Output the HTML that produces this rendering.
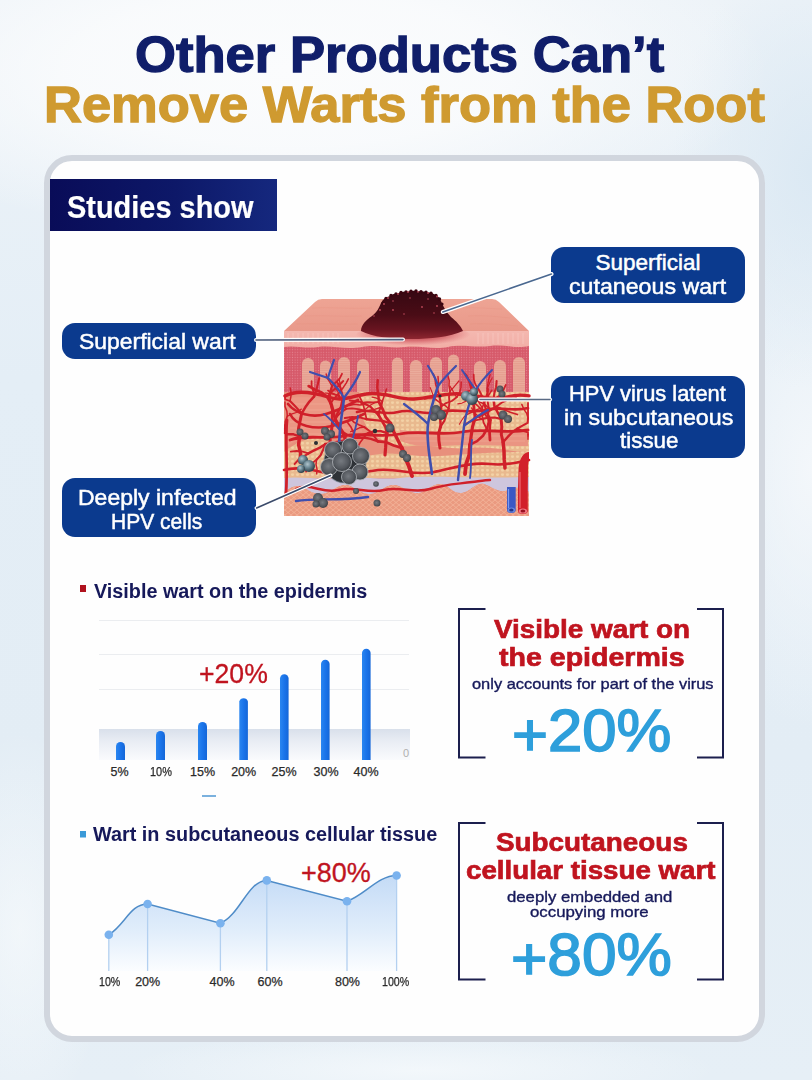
<!DOCTYPE html>
<html><head><meta charset="utf-8">
<style>
*{margin:0;padding:0;box-sizing:border-box}
html,body{width:812px;height:1080px;overflow:hidden}
body{position:relative;font-family:"Liberation Sans",sans-serif;
 background:
  radial-gradient(ellipse 480px 170px at 290px 70px, #fbfcfd 0%, rgba(251,252,253,0.85) 45%, rgba(251,252,253,0) 100%),
  radial-gradient(ellipse 140px 220px at 812px 170px, rgba(218,232,243,0.9) 0%, rgba(218,232,243,0) 100%),
  radial-gradient(ellipse 120px 260px at 812px 470px, rgba(245,248,251,0.9) 0%, rgba(245,248,251,0) 100%),
  radial-gradient(ellipse 90px 200px at 20px 930px, rgba(250,252,253,0.6) 0%, rgba(250,252,253,0) 100%),
  radial-gradient(ellipse 300px 40px at 420px 1070px, rgba(248,251,253,0.7) 0%, rgba(248,251,253,0) 100%),
  linear-gradient(180deg,#edf3f8 0%,#e4eef6 35%,#e3edf5 70%,#e6eff6 100%);
}
.t{position:absolute;white-space:nowrap;line-height:1;transform-origin:0 0}
.card{position:absolute;left:44px;top:155px;width:721px;height:887px;border:6.5px solid #d1d6de;border-radius:28px;background:#fefefe}
.studies{position:absolute;left:50px;top:179px;width:227px;height:52px;background:linear-gradient(90deg,#090c58 0%,#0d1868 55%,#15287e 100%)}
.pill{position:absolute;background:#0b3a8e;border-radius:13px}
.ab{position:absolute}
</style></head><body>
<div class="card"></div>
<div class="studies"></div>
<div class="pill" style="left:62px;top:322.5px;width:194px;height:36.5px"></div>
<div class="pill" style="left:551px;top:247px;width:194px;height:56px"></div>
<div class="pill" style="left:551px;top:376px;width:194px;height:82px"></div>
<div class="pill" style="left:62px;top:478px;width:194px;height:59px"></div>
<svg class="ab" style="left:270px;top:280px;filter:blur(0.35px)" width="270" height="245" viewBox="270 280 270 245">
<defs>
 <pattern id="dots" width="2.6" height="2.6" patternUnits="userSpaceOnUse">
  <rect width="2.6" height="2.6" fill="#d65a6a"/><circle cx="1.3" cy="1.3" r="0.6" fill="#e58390"/>
 </pattern>
 <pattern id="fat" width="5" height="4.5" patternUnits="userSpaceOnUse">
  <rect width="5" height="4.5" fill="#e9b98e"/><ellipse cx="2.5" cy="2.25" rx="1.6" ry="1.3" fill="#f3d2a6"/>
 </pattern>
 <pattern id="tissue" width="6" height="5" patternUnits="userSpaceOnUse">
  <rect width="6" height="5" fill="#ea9a80"/><path d="M0,2.5 L3,0 L6,2.5 L3,5 Z" fill="none" stroke="#f4b49a" stroke-width="0.8"/>
 </pattern>
 <pattern id="strp" width="4" height="2.2" patternUnits="userSpaceOnUse">
  <rect width="4" height="2.2" fill="#e6a090"/><rect y="1.4" width="4" height="0.6" fill="#eeb2a2"/>
 </pattern>
 <linearGradient id="topg" x1="0" y1="0" x2="0" y2="1">
  <stop offset="0" stop-color="#eea494"/><stop offset="1" stop-color="#e9998a"/>
 </linearGradient>
 <linearGradient id="epig" x1="0" y1="0" x2="0" y2="1">
  <stop offset="0" stop-color="#f4b8b0"/><stop offset="1" stop-color="#f2aea6"/>
 </linearGradient>
 <linearGradient id="wartg" x1="0" y1="0" x2="0" y2="1">
  <stop offset="0" stop-color="#360812"/><stop offset="0.5" stop-color="#4a0c16"/><stop offset="0.8" stop-color="#681420"/><stop offset="1" stop-color="#8e2630"/>
 </linearGradient>
 <radialGradient id="wshadow" cx="0.5" cy="0.4" r="0.5">
  <stop offset="0" stop-color="#a01828" stop-opacity="0.9"/><stop offset="0.6" stop-color="#c03040" stop-opacity="0.5"/><stop offset="1" stop-color="#d04050" stop-opacity="0"/>
 </radialGradient>
 <radialGradient id="cl" cx="0.45" cy="0.45" r="0.6">
  <stop offset="0" stop-color="#767a80"/><stop offset="0.65" stop-color="#53575d"/><stop offset="1" stop-color="#33373c"/>
 </radialGradient>
 <radialGradient id="clb" cx="0.38" cy="0.35" r="0.62">
  <stop offset="0" stop-color="#b0c4cc"/><stop offset="0.5" stop-color="#6a8692"/><stop offset="1" stop-color="#34464f"/>
 </radialGradient>
</defs>
<!-- base front face -->
<rect x="284" y="331" width="245" height="185" fill="#e8907c"/>
<!-- beige cell regions -->
<path d="M360,388 L529,386 L529,452 C510,452 492,446 470,448 C450,450 432,444 412,446 C395,448 380,440 370,432 C362,420 356,402 360,388 Z" fill="url(#fat)"/>
<path d="M284,452 C292,446 300,440 314,438 C326,437 334,446 342,452 C352,458 365,456 380,454 C400,452 420,458 440,456 C465,454 490,452 529,452 L529,478 L284,478 Z" fill="url(#fat)"/>
<!-- salmon stripe zones -->
<path d="M286,398 C300,396 330,398 358,400 L362,432 C345,434 320,436 300,440 C292,442 288,446 286,448 Z" fill="#eb9784"/>
<path d="M400,430 C430,434 470,430 528,432 L528,446 C500,446 470,444 440,446 C420,447 405,444 400,440 Z" fill="#ea9482"/>
<g stroke="#f2ac98" stroke-width="0.8" opacity="0.8">
 <path d="M290,404 H356 M290,410 H357 M290,416 H358 M290,422 H358 M290,428 H359 M290,434 H330 M405,436 H525 M405,441 H525"/>
</g>
<!-- papillary dermis -->
<path d="M284,345 C300,343 315,347 330,345 C345,343 360,347 375,345 C390,343 405,348 420,346 C440,343 455,347 470,345 C490,343 505,347 529,345 L529,392 L284,392 Z" fill="url(#dots)"/>
<!-- papillae fingers -->
<g fill="url(#strp)">
 <path d="M302,392 V364 a6,6 0 0 1 12,0 V392 Z"/>
 <path d="M320,392 V366 a5.5,5.5 0 0 1 11,0 V392 Z"/>
 <path d="M338,392 V363 a6,6 0 0 1 12,0 V392 Z"/>
 <path d="M357,392 V365 a6,6 0 0 1 12,0 V392 Z"/>
 <path d="M392,392 V363 a5.5,5.5 0 0 1 11,0 V392 Z"/>
 <path d="M410,392 V366 a6,6 0 0 1 12,0 V392 Z"/>
 <path d="M430,392 V363 a6,6 0 0 1 12,0 V392 Z"/>
 <path d="M448,392 V360 a5.5,5.5 0 0 1 11,0 V392 Z"/>
 <path d="M474,392 V367 a6,6 0 0 1 12,0 V392 Z"/>
 <path d="M494,392 V366 a6,6 0 0 1 12,0 V392 Z"/>
 <path d="M513,392 V363 a6,6 0 0 1 12,0 V392 Z"/>
</g>
<!-- epidermis band -->
<path d="M284,331 L529,331 L529,346 C515,349 505,344 490,346 C475,348 462,344 448,347 C432,350 420,345 405,347 C390,349 378,344 362,347 C345,350 332,345 318,347 C305,349 295,345 284,347 Z" fill="url(#epig)"/>
<g stroke="#f8d0c8" stroke-width="0.7" opacity="0.7">
 <path d="M288,333 V344 M293,333 V344 M298,333 V344 M303,333 V344 M308,333 V344 M313,333 V344 M318,333 V344 M323,333 V344 M328,333 V344 M333,333 V344 M338,333 V344 M478,333 V344 M483,333 V344 M488,333 V344 M493,333 V344 M498,333 V344 M503,333 V344 M508,333 V344 M513,333 V344 M518,333 V344 M523,333 V344"/>
</g>
<!-- lavender band -->
<path d="M284,478 C300,476 320,480 340,478 C360,476 380,480 400,478 C430,475 470,479 529,477 L529,492 C522,488 515,486 508,490 C500,494 492,487 484,484 C476,482 470,492 462,493 C452,494 448,484 440,484 C430,484 425,495 415,493 C405,491 400,484 392,485 C384,486 378,495 368,494 C358,493 352,484 344,485 C336,486 330,494 320,494 C310,494 305,486 298,486 C292,486 288,490 284,492 Z" fill="#cec6dd"/>
<!-- bottom tissue -->
<path d="M284,492 C288,490 292,486 298,486 C305,486 310,494 320,494 C330,494 336,486 344,485 C352,484 358,493 368,494 C378,495 384,486 392,485 C400,484 405,491 415,493 C425,495 430,484 440,484 C448,484 452,494 462,493 C470,492 476,482 484,484 C492,487 500,494 508,490 C515,486 522,488 529,492 L529,516 L284,516 Z" fill="url(#tissue)"/>
<!-- top surface -->
<path d="M322,299 L492,299 Q496,299 499,302 L529,331 L284,331 L315,302 Q318,299 322,299 Z" fill="url(#topg)"/>
<g stroke="#e6907f" stroke-width="0.6" opacity="0.55" fill="none">
 <path d="M312,308 C330,307 350,309 372,308"/><path d="M304,316 C322,315 342,317 362,316"/><path d="M296,324 C316,323 336,325 358,324"/>
 <path d="M462,308 C480,307 492,309 502,309"/><path d="M468,316 C485,315 500,317 510,318"/><path d="M470,324 C488,323 505,325 518,326"/>
</g>
<!-- wart shadow -->
<ellipse cx="413" cy="336" rx="58" ry="12" fill="url(#wshadow)"/>
<!-- wart -->
<path d="M361,331 C361,325 366,320 372,316 C377,312 379,308 381,303 C383,299 386,297 390,296 C393,293 397,294 400,292.5 C404,291 408,292 412,291 C416,290 420,292 424,291.5 C428,292 432,293 435,294.5 C438,296 440,298 441,301 C443,306 446,312 451,317 C456,321 461,326 463,331 C450,337 430,339 412,339 C392,339 372,337 361,331 Z" fill="url(#wartg)"/>
<g fill="#3a0510">
 <circle cx="386" cy="298.5" r="1.7"/><circle cx="391" cy="295.5" r="1.7"/><circle cx="396" cy="294" r="1.7"/><circle cx="401" cy="292.5" r="1.7"/><circle cx="406" cy="292" r="1.7"/><circle cx="411" cy="291.2" r="1.7"/><circle cx="416" cy="291" r="1.7"/><circle cx="421" cy="291.6" r="1.7"/><circle cx="426" cy="292.2" r="1.7"/><circle cx="431" cy="293.3" r="1.7"/><circle cx="436" cy="295.5" r="1.7"/><circle cx="439.5" cy="299" r="1.7"/>
 <circle cx="383" cy="303" r="1.6"/><circle cx="442" cy="304" r="1.6"/>
</g>
<g fill="#c85060" opacity="0.9">
 <circle cx="388" cy="298" r="0.9"/><circle cx="398" cy="294" r="0.9"/><circle cx="408" cy="292" r="0.9"/><circle cx="418" cy="291.8" r="0.9"/><circle cx="428" cy="293" r="0.9"/><circle cx="437" cy="296.5" r="0.9"/>
 <circle cx="384" cy="304" r="0.9"/><circle cx="393" cy="301" r="0.8"/><circle cx="410" cy="298" r="0.8"/><circle cx="428" cy="299" r="0.8"/><circle cx="437" cy="306" r="0.9"/><circle cx="380" cy="310" r="0.9"/>
 <circle cx="393" cy="310" r="0.9"/><circle cx="422" cy="307" r="0.9"/><circle cx="434" cy="313" r="0.8"/><circle cx="404" cy="314" r="0.8"/><circle cx="374" cy="316" r="0.8"/><circle cx="444" cy="312" r="0.8"/>
</g>
<!-- red vessel network -->
<g fill="none" stroke="#d0202a" stroke-linecap="round" stroke-linejoin="round">
 <path stroke-width="3.4" d="M285,396 C296,390 312,392 328,397 C344,402 352,396 366,394 C384,391 398,400 414,399 C432,398 446,392 462,394 C480,396 494,401 508,397 C518,394 524,395 529,396"/>
 <path stroke-width="2.8" d="M288,404 C296,414 312,418 326,414 C340,410 350,404 358,400"/>
 <path stroke-width="2.6" d="M290,414 C296,426 314,430 332,426 C346,422 356,418 364,414"/>
 <path stroke-width="2.8" d="M290,440 C306,434 326,440 344,436 C362,432 380,438 400,434 C420,430 442,436 462,432 C484,428 506,434 528,430"/>
 <path stroke-width="2.6" d="M357,412 C370,408 384,416 398,412 C412,408 424,416 440,412 C454,408 470,414 486,410 C500,406 514,412 528,408"/>
 <path stroke-width="2.6" d="M284,470 C298,466 314,470 330,474 C346,478 360,472 378,470 C398,468 414,476 434,472 C454,468 470,462 490,464 C506,466 520,462 529,460"/>
 <path stroke-width="2.4" d="M296,489 C310,482 322,494 338,490 C354,486 368,494 384,490 C400,486 414,494 430,489 C446,484 458,484 472,482 C480,481 486,480 490,480"/>
 <path stroke-width="2.8" d="M287,420 C285,440 288,464 286,494"/>
</g>
<g fill="none" stroke="#d0202a" stroke-linecap="round" stroke-linejoin="round"><path stroke-width="4.2" d="M357.0,472.0 L353.7,462.5 L351.5,452.8 L346.5,444.2"/>
<path stroke-width="3.0" d="M346.5,444.2 L339.5,442.5 L332.4,443.2 L325.3,444.2"/>
<path stroke-width="2.1" d="M325.3,444.2 L323.1,449.7 L320.6,455.2 L316.6,459.6"/>
<path stroke-width="1.5" d="M316.6,459.6 L316.0,464.4 L317.0,469.1 L316.7,473.9"/>
<path stroke-width="1.8" d="M316.6,459.6 L312.4,463.0 L309.3,467.4 L306.0,471.6"/>
<path stroke-width="2.5" d="M325.3,444.2 L319.9,447.6 L314.1,450.4 L308.4,453.4"/>
<path stroke-width="1.8" d="M308.4,453.4 L302.7,451.7 L296.7,451.0 L290.8,451.6"/>
<path stroke-width="2.1" d="M308.4,453.4 L303.6,456.7 L298.6,459.6 L294.7,463.9"/>
<path stroke-width="3.6" d="M346.5,444.2 L344.3,435.4 L339.7,427.7 L335.4,419.8"/>
<path stroke-width="2.5" d="M335.4,419.8 L337.5,413.0 L341.0,406.8 L342.5,399.9"/>
<path stroke-width="1.8" d="M342.5,399.9 L338.2,396.0 L332.9,393.7 L328.0,390.6"/>
<path stroke-width="2.1" d="M342.5,399.9 L342.1,393.5 L340.3,387.4 L337.0,382.0"/>
<path stroke-width="3.1" d="M335.4,419.8 L333.4,411.9 L331.3,404.1 L327.5,397.0"/>
<path stroke-width="2.1" d="M327.5,397.0 L332.0,391.1 L338.0,386.5 L343.1,381.1"/>
<path stroke-width="2.6" d="M327.5,397.0 L321.7,392.5 L315.0,389.7 L308.6,386.0"/>
<path stroke-width="4.0" d="M412.0,476.0 L409.0,466.5 L405.1,457.2 L401.7,447.8"/>
<path stroke-width="2.8" d="M401.7,447.8 L393.8,445.5 L386.2,442.2 L377.9,441.3"/>
<path stroke-width="2.0" d="M377.9,441.3 L374.0,436.0 L369.6,431.0 L364.3,427.1"/>
<path stroke-width="1.4" d="M364.3,427.1 L359.5,427.8 L355.2,429.8 L350.7,431.7"/>
<path stroke-width="1.7" d="M364.3,427.1 L358.8,424.7 L353.6,421.9 L349.5,417.5"/>
<path stroke-width="2.4" d="M377.9,441.3 L370.9,438.9 L363.5,437.5 L356.1,437.9"/>
<path stroke-width="1.7" d="M356.1,437.9 L353.4,432.4 L350.9,426.9 L347.2,422.0"/>
<path stroke-width="2.0" d="M356.1,437.9 L349.7,436.0 L343.9,432.5 L338.7,428.2"/>
<path stroke-width="3.4" d="M401.7,447.8 L397.7,439.8 L393.7,431.7 L390.6,423.3"/>
<path stroke-width="2.4" d="M390.6,423.3 L382.8,420.9 L374.7,420.1 L366.6,419.2"/>
<path stroke-width="1.7" d="M366.6,419.2 L364.9,411.6 L363.1,404.1 L359.8,397.2"/>
<path stroke-width="2.0" d="M366.6,419.2 L359.5,417.4 L352.2,417.0 L344.9,418.0"/>
<path stroke-width="2.9" d="M390.6,423.3 L385.6,416.9 L382.7,409.3 L379.0,402.1"/>
<path stroke-width="2.0" d="M379.0,402.1 L373.1,402.6 L367.2,402.3 L361.3,403.1"/>
<path stroke-width="2.5" d="M379.0,402.1 L378.3,394.9 L377.3,387.6 L377.7,380.3"/>
<path stroke-width="3.8" d="M465.0,474.0 L466.1,464.1 L469.3,454.6 L470.0,444.6"/>
<path stroke-width="2.6" d="M470.0,444.6 L477.1,441.1 L483.0,435.8 L486.8,429.0"/>
<path stroke-width="1.8" d="M486.8,429.0 L483.5,422.4 L482.1,415.1 L482.3,407.8"/>
<path stroke-width="1.3" d="M482.3,407.8 L479.3,403.2 L477.1,398.1 L474.4,393.3"/>
<path stroke-width="1.6" d="M482.3,407.8 L484.6,401.6 L488.1,396.0 L491.7,390.4"/>
<path stroke-width="2.2" d="M486.8,429.0 L488.6,422.1 L487.9,415.0 L488.7,408.0"/>
<path stroke-width="1.6" d="M488.7,408.0 L484.2,403.9 L478.7,401.4 L473.6,398.2"/>
<path stroke-width="1.9" d="M488.7,408.0 L487.7,401.7 L487.8,395.3 L488.0,388.9"/>
<path stroke-width="3.2" d="M470.0,444.6 L471.2,435.7 L472.5,426.8 L475.0,418.1"/>
<path stroke-width="2.2" d="M475.0,418.1 L482.6,415.1 L489.4,410.8 L496.4,406.6"/>
<path stroke-width="1.6" d="M496.4,406.6 L503.3,409.6 L510.3,412.3 L517.4,414.6"/>
<path stroke-width="1.9" d="M496.4,406.6 L502.3,402.3 L508.9,399.2 L516.1,398.0"/>
<path stroke-width="2.7" d="M475.0,418.1 L474.2,410.1 L473.3,402.0 L473.7,393.9"/>
<path stroke-width="1.9" d="M473.7,393.9 L470.8,387.9 L469.4,381.4 L466.5,375.4"/>
<path stroke-width="2.3" d="M473.7,393.9 L471.5,387.0 L468.7,380.3 L465.1,373.9"/>
<path stroke-width="3.5" d="M300.0,462.0 L300.6,453.4 L298.6,444.9 L299.5,436.3"/>
<path stroke-width="2.4" d="M299.5,436.3 L293.6,434.3 L287.3,434.2 L285.0,433.0"/>
<path stroke-width="1.7" d="M285.0,433.0 L285.0,427.3 L285.3,421.6 L287.3,416.3"/>
<path stroke-width="1.2" d="M287.3,416.3 L292.1,413.9 L297.1,412.2 L301.4,409.1"/>
<path stroke-width="1.5" d="M287.3,416.3 L286.9,411.2 L285.0,406.4 L285.0,402.0"/>
<path stroke-width="2.1" d="M285.0,433.0 L285.0,432.1 L285.0,429.6 L285.0,427.9"/>
<path stroke-width="1.5" d="M285.0,427.9 L285.0,428.1 L285.0,426.6 L285.0,425.9"/>
<path stroke-width="1.8" d="M285.0,427.9 L285.0,426.5 L285.0,425.1 L285.0,424.9"/>
<path stroke-width="3.0" d="M299.5,436.3 L298.5,428.6 L300.1,420.9 L301.7,413.3"/>
<path stroke-width="2.1" d="M301.7,413.3 L297.9,409.1 L294.0,405.0 L290.0,401.0"/>
<path stroke-width="1.5" d="M290.0,401.0 L290.9,396.7 L291.0,392.2 L290.2,387.9"/>
<path stroke-width="1.8" d="M290.0,401.0 L285.2,399.4 L285.0,397.1 L285.0,395.5"/>
<path stroke-width="2.5" d="M301.7,413.3 L305.3,407.3 L309.4,401.6 L314.2,396.4"/>
<path stroke-width="1.8" d="M314.2,396.4 L313.3,391.3 L311.6,386.4 L311.6,381.2"/>
<path stroke-width="2.1" d="M314.2,396.4 L316.2,390.5 L317.8,384.3 L319.2,378.2"/>
<path stroke-width="3.5" d="M505.0,468.0 L504.2,459.4 L504.0,450.7 L503.1,442.1"/>
<path stroke-width="2.4" d="M503.1,442.1 L507.5,437.2 L512.0,432.5 L517.3,428.6"/>
<path stroke-width="1.7" d="M517.3,428.6 L522.6,430.9 L528.0,432.4 L528.0,434.4"/>
<path stroke-width="1.2" d="M528.0,434.4 L528.0,434.4 L528.0,434.8 L528.0,436.2"/>
<path stroke-width="1.5" d="M528.0,434.4 L528.0,435.3 L528.0,436.8 L528.0,439.3"/>
<path stroke-width="2.1" d="M517.3,428.6 L522.5,425.7 L527.6,422.8 L528.0,418.4"/>
<path stroke-width="1.5" d="M528.0,418.4 L526.7,413.4 L523.8,409.1 L521.8,404.4"/>
<path stroke-width="1.8" d="M528.0,418.4 L528.0,413.3 L528.0,408.0 L528.0,402.9"/>
<path stroke-width="3.0" d="M503.1,442.1 L501.3,434.5 L501.8,426.7 L501.1,418.9"/>
<path stroke-width="2.1" d="M501.1,418.9 L494.5,417.5 L487.8,417.7 L481.2,419.1"/>
<path stroke-width="1.5" d="M481.2,419.1 L477.6,415.7 L474.0,412.3 L471.7,408.0"/>
<path stroke-width="1.8" d="M481.2,419.1 L475.3,420.4 L469.5,421.8 L464.2,424.8"/>
<path stroke-width="2.5" d="M501.1,418.9 L497.8,412.7 L494.5,406.5 L493.5,399.6"/>
<path stroke-width="1.8" d="M493.5,399.6 L499.0,396.0 L503.1,391.0 L505.7,385.0"/>
<path stroke-width="2.1" d="M493.5,399.6 L494.3,393.3 L496.1,387.2 L496.6,381.0"/>
<path stroke-width="3.0" d="M330.0,445.0 L330.2,437.7 L331.5,430.5 L332.4,423.2"/>
<path stroke-width="2.1" d="M332.4,423.2 L336.0,417.5 L340.5,412.6 L346.1,408.9"/>
<path stroke-width="1.5" d="M346.1,408.9 L343.5,404.6 L341.8,399.9 L339.3,395.6"/>
<path stroke-width="1.1" d="M339.3,395.6 L334.7,394.3 L330.0,393.6 L325.3,393.0"/>
<path stroke-width="1.2" d="M339.3,395.6 L337.7,391.4 L335.1,387.7 L333.9,383.3"/>
<path stroke-width="1.8" d="M346.1,408.9 L352.0,408.3 L358.0,409.1 L363.9,410.4"/>
<path stroke-width="1.2" d="M363.9,410.4 L367.3,407.7 L370.6,405.0 L374.3,402.9"/>
<path stroke-width="1.5" d="M363.9,410.4 L369.3,410.3 L374.6,409.4 L379.7,407.7"/>
<path stroke-width="2.5" d="M332.4,423.2 L332.1,416.6 L332.3,410.0 L330.7,403.6"/>
<path stroke-width="1.8" d="M330.7,403.6 L333.5,399.1 L337.2,395.1 L340.6,391.0"/>
<path stroke-width="1.2" d="M340.6,391.0 L340.5,387.0 L339.9,383.0 L339.0,379.1"/>
<path stroke-width="1.5" d="M340.6,391.0 L343.5,387.2 L346.2,383.1 L348.4,378.8"/>
<path stroke-width="2.2" d="M330.7,403.6 L329.9,397.7 L330.2,391.8 L332.0,386.1"/>
<path stroke-width="1.5" d="M332.0,386.1 L329.8,382.2 L327.3,378.4 L326.2,374.0"/>
<path stroke-width="1.8" d="M332.0,386.1 L335.8,382.4 L339.6,378.6 L342.0,373.8"/>
<path stroke-width="3.0" d="M440.0,448.0 L438.9,440.8 L438.6,433.4 L440.7,426.4"/>
<path stroke-width="2.1" d="M440.7,426.4 L444.3,420.9 L446.3,414.7 L448.7,408.6"/>
<path stroke-width="1.5" d="M448.7,408.6 L444.8,405.3 L440.3,402.8 L436.2,399.9"/>
<path stroke-width="1.1" d="M436.2,399.9 L432.4,398.8 L428.4,398.7 L424.5,399.1"/>
<path stroke-width="1.2" d="M436.2,399.9 L433.5,396.2 L431.9,391.9 L430.2,387.6"/>
<path stroke-width="1.8" d="M448.7,408.6 L449.4,402.7 L449.0,396.8 L450.1,391.0"/>
<path stroke-width="1.2" d="M450.1,391.0 L453.2,387.9 L456.1,384.4 L458.9,381.0"/>
<path stroke-width="1.5" d="M450.1,391.0 L449.0,385.8 L449.2,380.5 L447.8,375.4"/>
<path stroke-width="2.5" d="M440.7,426.4 L440.3,419.8 L441.2,413.2 L441.1,406.6"/>
<path stroke-width="1.8" d="M441.1,406.6 L446.1,403.1 L451.8,401.0 L456.7,397.3"/>
<path stroke-width="1.2" d="M456.7,397.3 L454.3,393.7 L452.3,389.8 L449.9,386.2"/>
<path stroke-width="1.5" d="M456.7,397.3 L459.6,392.7 L461.0,387.4 L461.2,381.9"/>
<path stroke-width="2.2" d="M441.1,406.6 L440.3,400.8 L439.1,395.0 L437.3,389.3"/>
<path stroke-width="1.5" d="M437.3,389.3 L438.4,385.1 L438.3,380.8 L438.0,376.5"/>
<path stroke-width="1.8" d="M437.3,389.3 L435.7,384.2 L435.2,378.9 L433.2,373.9"/>
<path stroke-width="3.2" d="M385.0,455.0 L385.6,447.7 L386.0,440.4 L387.1,433.1"/>
<path stroke-width="2.3" d="M387.1,433.1 L380.9,431.1 L374.4,431.2 L368.2,433.2"/>
<path stroke-width="1.6" d="M368.2,433.2 L364.1,437.3 L360.5,441.9 L357.7,447.0"/>
<path stroke-width="1.1" d="M357.7,447.0 L359.6,451.7 L362.2,456.1 L366.1,459.3"/>
<path stroke-width="1.4" d="M357.7,447.0 L353.2,449.6 L348.8,452.5 L345.1,456.1"/>
<path stroke-width="1.9" d="M368.2,433.2 L362.5,434.7 L357.0,437.0 L351.4,438.6"/>
<path stroke-width="1.4" d="M351.4,438.6 L350.4,443.1 L349.8,447.6 L348.4,452.0"/>
<path stroke-width="1.6" d="M351.4,438.6 L346.2,439.6 L341.0,440.8 L335.8,441.8"/>
<path stroke-width="2.8" d="M387.1,433.1 L385.4,426.7 L382.1,421.1 L378.7,415.4"/>
<path stroke-width="1.9" d="M378.7,415.4 L379.3,410.6 L381.3,406.2 L382.3,401.5"/>
<path stroke-width="1.4" d="M382.3,401.5 L379.2,399.4 L375.8,397.9 L372.1,397.1"/>
<path stroke-width="1.6" d="M382.3,401.5 L383.7,397.3 L385.3,393.3 L386.4,389.1"/>
<path stroke-width="2.3" d="M378.7,415.4 L374.6,411.0 L370.5,406.8 L365.2,404.1"/>
<path stroke-width="1.6" d="M365.2,404.1 L359.9,405.0 L354.6,404.3 L349.3,405.4"/>
<path stroke-width="2.0" d="M365.2,404.1 L360.4,401.8 L355.1,401.2 L349.8,400.4"/>
<path stroke-width="2.8" d="M490.0,440.0 L489.6,433.3 L489.7,426.7 L490.4,420.0"/>
<path stroke-width="1.9" d="M490.4,420.0 L486.5,416.6 L484.0,412.0 L480.2,408.4"/>
<path stroke-width="1.3" d="M480.2,408.4 L475.8,410.2 L471.6,412.4 L467.3,414.3"/>
<path stroke-width="1.1" d="M467.3,414.3 L464.0,417.0 L461.6,420.5 L459.4,424.2"/>
<path stroke-width="1.6" d="M480.2,408.4 L476.9,405.0 L473.1,402.2 L469.0,400.0"/>
<path stroke-width="1.1" d="M469.0,400.0 L465.3,401.4 L461.7,403.2 L457.8,403.9"/>
<path stroke-width="1.4" d="M469.0,400.0 L465.7,397.3 L461.8,395.5 L457.6,394.8"/>
<path stroke-width="2.3" d="M490.4,420.0 L488.0,414.5 L485.8,409.0 L484.2,403.2"/>
<path stroke-width="1.6" d="M484.2,403.2 L485.6,398.3 L487.1,393.3 L487.3,388.2"/>
<path stroke-width="1.1" d="M487.3,388.2 L488.9,384.8 L490.3,381.2 L492.2,377.9"/>
<path stroke-width="1.4" d="M487.3,388.2 L487.9,383.6 L488.8,379.1 L490.1,374.7"/>
<path stroke-width="2.0" d="M484.2,403.2 L482.9,397.9 L480.6,393.1 L477.9,388.3"/>
<path stroke-width="1.4" d="M477.9,388.3 L474.0,389.3 L470.2,390.5 L466.3,391.6"/>
<path stroke-width="1.7" d="M477.9,388.3 L475.3,384.2 L473.9,379.6 L473.7,374.7"/></g>
<!-- blue veins -->
<g fill="none" stroke="#3f4fae" stroke-linecap="round" stroke-linejoin="round">
 <path stroke-width="2.6" d="M342,474 C340,460 338,446 340,430 C341,418 343,408 344,398"/>
 <path stroke-width="2.2" d="M344,398 C340,390 334,384 328,378 M344,398 C350,390 356,382 360,372 M328,378 C322,376 316,374 310,372 M328,378 C330,370 332,366 334,360"/>
 <path stroke-width="1.8" d="M340,430 C334,424 330,418 324,414 M350,452 C352,440 356,428 358,416"/>
 <path stroke-width="2.6" d="M432,474 C430,458 426,440 428,424 C430,410 434,398 438,386"/>
 <path stroke-width="2.2" d="M438,386 C436,378 432,372 428,366 M438,386 C444,378 450,372 456,366 M428,424 C420,416 412,410 404,404"/>
 <path stroke-width="2.4" d="M458,480 C460,462 462,444 464,426 C466,412 470,400 476,390"/>
 <path stroke-width="2" d="M476,390 C480,382 486,376 492,370 M476,390 C470,382 466,376 462,370 M464,426 C472,420 480,414 488,410"/>
 <path stroke-width="1.8" d="M470,478 C472,466 470,454 472,440"/>
</g>

<g fill="none" stroke="#3f4fae" stroke-linecap="round" stroke-width="2.4"><path d="M296,501 C316,498 340,501 368,497"/></g>
<!-- tubes bottom right -->
<path d="M507,487 L507,510 a4.35,3 0 0 0 8.7,0 L515.7,487 Z" fill="#3a58c4"/>
<path d="M508.5,489 L508.5,508" stroke="#7a9af0" stroke-width="1.2"/>
<ellipse cx="511.35" cy="510" rx="3.8" ry="2.6" fill="#6a8ae0"/>
<ellipse cx="511.35" cy="510" rx="2.2" ry="1.5" fill="#24358a"/>
<path d="M529,452 C524,452 519,458 518.5,470 L518,488 L518,511 a4.9,3 0 0 0 9.8,0 L527.8,488 L528,470 C528,462 529,460 529,460 Z" fill="#d2202a"/>
<path d="M520,472 L520,508" stroke="#f06a74" stroke-width="1.2"/>
<ellipse cx="522.9" cy="511" rx="4.2" ry="2.6" fill="#f07884"/>
<ellipse cx="522.9" cy="511" rx="2.4" ry="1.5" fill="#9a1020"/>
<!-- clusters -->
<g id="big" stroke="#b4b8bc" stroke-width="0.8">
 <circle cx="345" cy="462" r="21" fill="#2e3237" stroke="#7a8a96" stroke-width="1.2" stroke-opacity="0.6"/>
 <circle cx="333" cy="450" r="8.5" fill="url(#cl)"/><circle cx="350" cy="446" r="8" fill="url(#cl)"/><circle cx="361" cy="456" r="8.5" fill="url(#cl)"/>
 <circle cx="329" cy="467" r="8.5" fill="url(#cl)"/><circle cx="360" cy="472" r="8" fill="url(#cl)"/><circle cx="349" cy="477" r="7.5" fill="url(#cl)"/>
 <circle cx="342" cy="462" r="9.5" fill="url(#cl)"/>
</g>
<g>
 <circle cx="303" cy="460" r="5" fill="url(#clb)"/><circle cx="309" cy="466" r="6" fill="url(#clb)"/><circle cx="301" cy="469" r="4" fill="url(#clb)"/>
 <circle cx="466" cy="396" r="5" fill="url(#clb)"/><circle cx="472" cy="399" r="6" fill="url(#clb)"/><circle cx="474" cy="392" r="4" fill="url(#clb)"/>
 <circle cx="436" cy="410" r="5" fill="url(#cl)"/><circle cx="441" cy="415" r="5" fill="url(#cl)"/><circle cx="434" cy="417" r="4" fill="url(#cl)"/>
 <circle cx="325" cy="431" r="4" fill="url(#cl)"/><circle cx="331" cy="434" r="4" fill="url(#cl)"/><circle cx="327" cy="437" r="3.5" fill="url(#cl)"/>
 <circle cx="300" cy="432" r="3.5" fill="url(#cl)"/><circle cx="305" cy="436" r="3.5" fill="url(#cl)"/>
 <circle cx="318" cy="498" r="5" fill="url(#cl)"/><circle cx="323" cy="503" r="5" fill="url(#cl)"/><circle cx="316" cy="504" r="3.5" fill="url(#cl)"/>
 <circle cx="390" cy="428" r="4.5" fill="url(#cl)"/>
 <circle cx="403" cy="454" r="4" fill="url(#cl)"/><circle cx="407" cy="458" r="4" fill="url(#cl)"/>
 <circle cx="500" cy="389" r="3.5" fill="url(#cl)"/><circle cx="502" cy="394" r="3.5" fill="url(#cl)"/>
 <circle cx="503" cy="415" r="4.5" fill="url(#cl)"/><circle cx="508" cy="419" r="4" fill="url(#cl)"/>
 <circle cx="376" cy="484" r="2.8" fill="url(#cl)"/><circle cx="356" cy="491" r="3" fill="url(#cl)"/><circle cx="377" cy="503" r="3.5" fill="url(#cl)"/>
 <circle cx="375" cy="431" r="2.2" fill="#2a2e33"/><circle cx="316" cy="443" r="2" fill="#2a2e33"/><circle cx="440" cy="396" r="1.6" fill="#2a2e33"/>
</g>
</svg>

<svg class="ab" style="left:0;top:0" width="812" height="1080" viewBox="0 0 812 1080">
 <!-- pointer lines -->
 <g stroke-linecap="round" fill="none">
  <line x1="256" y1="340" x2="403" y2="339.6" stroke="#fff" stroke-width="4"/>
  <line x1="256" y1="340" x2="403" y2="339.6" stroke="#4a5a78" stroke-width="1.6"/>
  <line x1="551.5" y1="274" x2="442.8" y2="312" stroke="#fff" stroke-width="4"/>
  <line x1="551.5" y1="274" x2="442.8" y2="312" stroke="#4a6890" stroke-width="1.6"/>
  <line x1="550" y1="399.5" x2="480" y2="399.5" stroke="#fff" stroke-width="4"/>
  <line x1="550" y1="399.5" x2="480" y2="399.5" stroke="#5a6a84" stroke-width="1.6"/>
  <line x1="256.6" y1="508" x2="330.5" y2="475.5" stroke="#fff" stroke-width="4"/>
  <line x1="256.6" y1="508" x2="330.5" y2="475.5" stroke="#3a4a6a" stroke-width="1.6"/>
 </g>
 <!-- bar chart -->
 <g stroke="#ebedf0" stroke-width="1">
  <line x1="99" y1="620.5" x2="409" y2="620.5"/>
  <line x1="99" y1="654.5" x2="409" y2="654.5"/>
  <line x1="99" y1="689.5" x2="409" y2="689.5"/>
 </g>
 <defs>
  <linearGradient id="band" x1="0" y1="0" x2="0" y2="1">
   <stop offset="0" stop-color="#d9e0eb"/><stop offset="0.4" stop-color="#e9edf4"/><stop offset="1" stop-color="#fafbfd"/>
  </linearGradient>
  <linearGradient id="bar" x1="0" y1="0" x2="1" y2="0">
   <stop offset="0" stop-color="#2a86f0"/><stop offset="0.5" stop-color="#1a74ea"/><stop offset="1" stop-color="#1466d8"/>
  </linearGradient>
  <linearGradient id="area" x1="0" y1="0" x2="0" y2="1">
   <stop offset="0" stop-color="#c4dbf6"/><stop offset="0.6" stop-color="#e2eefb"/><stop offset="1" stop-color="#fbfdff"/>
  </linearGradient>
 </defs>
 <rect x="99" y="729" width="311" height="31" fill="url(#band)"/>
 <g fill="url(#bar)">
  <path d="M116,760 V746.5 a4.5,4.5 0 0 1 9,0 V760 Z" transform="translate(0,0)"/>
  <path d="M156,760 V735.5 a4.5,4.5 0 0 1 9,0 V760 Z"/>
  <path d="M198,760 V726.5 a4.5,4.5 0 0 1 9,0 V760 Z"/>
  <path d="M239.3,760 V701.5 a4.5,4.5 0 0 1 8.6,0 V760 Z"/>
  <path d="M280,760 V678.5 a4.3,4.3 0 0 1 8.6,0 V760 Z"/>
  <path d="M321,760 V664 a4.3,4.3 0 0 1 8.6,0 V760 Z"/>
  <path d="M362,760 V653 a4.3,4.3 0 0 1 8.6,0 V760 Z"/>
 </g>
 <line x1="202" y1="796" x2="216" y2="796" stroke="#5a9ed6" stroke-width="1.6"/>
 <!-- red square, blue square -->
 <rect x="80" y="585" width="6" height="7" fill="#b0121e"/>
 <rect x="80" y="831" width="6" height="6.5" fill="#3b9ad8"/>
 <!-- brackets -->
 <g stroke="#1c1f4e" stroke-width="2" fill="none">
  <path d="M485.5,609 H459 V757.5 H485.5"/>
  <path d="M697,609 H723 V757.5 H697"/>
  <path d="M485.5,823 H459 V979.5 H485.5"/>
  <path d="M697,823 H723 V979.5 H697"/>
 </g>
 <!-- line chart -->
 <path d="M108.8,934.8 C125,925 130,904 147.6,904 L220.4,923.3 C240,915 248,880.4 266.8,880.4 L347,901.3 C365,895 378,875.5 396.6,875.5 L396.6,971 L108.8,971 Z" fill="url(#area)"/>
 <g stroke="#b3d0f0" stroke-width="1.3">
  <line x1="108.8" y1="934.8" x2="108.8" y2="971"/>
  <line x1="147.6" y1="904" x2="147.6" y2="971"/>
  <line x1="220.4" y1="923.3" x2="220.4" y2="971"/>
  <line x1="266.8" y1="880.4" x2="266.8" y2="971"/>
  <line x1="347" y1="901.3" x2="347" y2="971"/>
  <line x1="396.6" y1="875.5" x2="396.6" y2="971"/>
 </g>
 <path d="M108.8,934.8 C125,925 130,904 147.6,904 L220.4,923.3 C240,915 248,880.4 266.8,880.4 L347,901.3 C365,895 378,875.5 396.6,875.5" fill="none" stroke="#4f8cc8" stroke-width="1.5"/>
 <g fill="#7ab2ee">
  <circle cx="108.8" cy="934.8" r="4.3"/><circle cx="147.6" cy="904" r="4.3"/><circle cx="220.4" cy="923.3" r="4.3"/>
  <circle cx="266.8" cy="880.4" r="4.3"/><circle cx="347" cy="901.3" r="4.3"/><circle cx="396.6" cy="875.5" r="4.3"/>
 </g>
</svg>
<div class="t" style="left:134.89px;top:30.65px;font-size:49.8px;font-weight:bold;color:#101e6a;transform:scaleX(1.0568);-webkit-text-stroke:1.3px #101e6a;">Other Products Can’t</div>
<div class="t" style="left:43.54px;top:81.05px;font-size:49.8px;font-weight:bold;color:#cf9a30;transform:scaleX(1.0534);-webkit-text-stroke:1.3px #cf9a30;">Remove Warts from the Root</div>
<div class="t" style="left:67px;top:191.84px;font-size:31.5px;font-weight:bold;color:#fff;transform:scaleX(0.9188);-webkit-text-stroke:0.2px #fff;">Studies show</div>
<div class="t" style="left:78.58px;top:330.56px;font-size:22.5px;font-weight:normal;color:#fff;transform:scaleX(1.0185);-webkit-text-stroke:0.5px #fff;">Superficial wart</div>
<div class="t" style="left:595.47px;top:252.16px;font-size:22.5px;font-weight:normal;color:#fff;-webkit-text-stroke:0.5px #fff;">Superficial</div>
<div class="t" style="left:569px;top:276.16px;font-size:22.5px;font-weight:normal;color:#fff;transform:scaleX(1.0304);-webkit-text-stroke:0.5px #fff;">cutaneous wart</div>
<div class="t" style="left:569.43px;top:382.96px;font-size:22.5px;font-weight:normal;color:#fff;transform:scaleX(0.9723);-webkit-text-stroke:0.5px #fff;">HPV virus latent</div>
<div class="t" style="left:563.97px;top:406.96px;font-size:22.5px;font-weight:normal;color:#fff;transform:scaleX(1.0331);-webkit-text-stroke:0.5px #fff;">in subcutaneous</div>
<div class="t" style="left:620px;top:429.96px;font-size:22.5px;font-weight:normal;color:#fff;transform:scaleX(0.9955);-webkit-text-stroke:0.5px #fff;">tissue</div>
<div class="t" style="left:77.98px;top:486.96px;font-size:22.5px;font-weight:normal;color:#fff;transform:scaleX(1.0223);-webkit-text-stroke:0.5px #fff;">Deeply infected</div>
<div class="t" style="left:111.07px;top:510.96px;font-size:22.5px;font-weight:normal;color:#fff;transform:scaleX(0.9348);-webkit-text-stroke:0.5px #fff;">HPV cells</div>
<div class="t" style="left:94px;top:580.82px;font-size:20.3px;font-weight:bold;color:#16195a;transform:scaleX(0.9751);-webkit-text-stroke:0.01px #16195a;">Visible wart on the epidermis</div>
<div class="t" style="left:199.03px;top:659.72px;font-size:27.5px;font-weight:normal;color:#c0141f;transform:scaleX(0.9677);-webkit-text-stroke:0.3px #c0141f;">+20%</div>
<div class="t" style="left:494px;top:615.54px;font-size:26.3px;font-weight:bold;color:#c0141f;transform:scaleX(1.0595);-webkit-text-stroke:0.7px #c0141f;">Visible wart on</div>
<div class="t" style="left:499px;top:643.74px;font-size:26.3px;font-weight:bold;color:#c0141f;transform:scaleX(1.0860);-webkit-text-stroke:0.7px #c0141f;">the epidermis</div>
<div class="t" style="left:472px;top:676.3px;font-size:15px;font-weight:normal;color:#16195a;transform:scaleX(1.0933);-webkit-text-stroke:0.35px #16195a;">only accounts for part of the virus</div>
<div class="t" style="left:511.94px;top:700.92px;font-size:60px;font-weight:normal;color:#2e9fdb;transform:scaleX(1.0278);-webkit-text-stroke:1.6px #2e9fdb;"><span style="position:relative;top:4.5px">+</span>20%</div>
<div class="t" style="left:93px;top:823.52px;font-size:20.3px;font-weight:bold;color:#16195a;transform:scaleX(0.9780);-webkit-text-stroke:0.01px #16195a;">Wart in subcutaneous cellular tissue</div>
<div class="t" style="left:301px;top:860.15px;font-size:27px;font-weight:normal;color:#c0141f;-webkit-text-stroke:0.3px #c0141f;">+80%</div>
<div class="t" style="left:495.7px;top:829.24px;font-size:26.3px;font-weight:bold;color:#c0141f;transform:scaleX(1.0590);-webkit-text-stroke:0.7px #c0141f;">Subcutaneous</div>
<div class="t" style="left:466.25px;top:857.34px;font-size:26.3px;font-weight:bold;color:#c0141f;transform:scaleX(1.0537);-webkit-text-stroke:0.7px #c0141f;">cellular tissue wart</div>
<div class="t" style="left:507px;top:889px;font-size:15px;font-weight:normal;color:#16195a;transform:scaleX(1.1140);-webkit-text-stroke:0.35px #16195a;">deeply embedded and</div>
<div class="t" style="left:530.4px;top:903.8px;font-size:15px;font-weight:normal;color:#16195a;transform:scaleX(1.1199);-webkit-text-stroke:0.35px #16195a;">occupying more</div>
<div class="t" style="left:510.63px;top:924.82px;font-size:60px;font-weight:normal;color:#2e9fdb;transform:scaleX(1.0364);-webkit-text-stroke:1.6px #2e9fdb;"><span style="position:relative;top:4.5px">+</span>80%</div>
<div class="t" style="left:110.52px;top:766.42px;font-size:12.5px;font-weight:normal;color:#2a2a2a;-webkit-text-stroke:0.25px #2a2a2a;">5%</div>
<div class="t" style="left:150px;top:766.42px;font-size:12.5px;font-weight:normal;color:#2a2a2a;transform:scaleX(0.8754);-webkit-text-stroke:0.25px #2a2a2a;">10%</div>
<div class="t" style="left:190.05px;top:766.42px;font-size:12.5px;font-weight:normal;color:#2a2a2a;-webkit-text-stroke:0.25px #2a2a2a;">15%</div>
<div class="t" style="left:231.15px;top:766.42px;font-size:12.5px;font-weight:normal;color:#2a2a2a;-webkit-text-stroke:0.25px #2a2a2a;">20%</div>
<div class="t" style="left:271.55px;top:766.42px;font-size:12.5px;font-weight:normal;color:#2a2a2a;-webkit-text-stroke:0.25px #2a2a2a;">25%</div>
<div class="t" style="left:313.55px;top:766.42px;font-size:12.5px;font-weight:normal;color:#2a2a2a;-webkit-text-stroke:0.25px #2a2a2a;">30%</div>
<div class="t" style="left:353.55px;top:766.42px;font-size:12.5px;font-weight:normal;color:#2a2a2a;-webkit-text-stroke:0.25px #2a2a2a;">40%</div>
<div class="t" style="left:98.8px;top:976.42px;font-size:12.5px;font-weight:normal;color:#2a2a2a;transform:scaleX(0.8513);-webkit-text-stroke:0.25px #2a2a2a;">10%</div>
<div class="t" style="left:135.15px;top:976.42px;font-size:12.5px;font-weight:normal;color:#2a2a2a;-webkit-text-stroke:0.25px #2a2a2a;">20%</div>
<div class="t" style="left:209.55px;top:976.42px;font-size:12.5px;font-weight:normal;color:#2a2a2a;-webkit-text-stroke:0.25px #2a2a2a;">40%</div>
<div class="t" style="left:257.55px;top:976.42px;font-size:12.5px;font-weight:normal;color:#2a2a2a;-webkit-text-stroke:0.25px #2a2a2a;">60%</div>
<div class="t" style="left:334.95px;top:976.42px;font-size:12.5px;font-weight:normal;color:#2a2a2a;-webkit-text-stroke:0.25px #2a2a2a;">80%</div>
<div class="t" style="left:382.3px;top:976.42px;font-size:12.5px;font-weight:normal;color:#2a2a2a;transform:scaleX(0.8538);-webkit-text-stroke:0.25px #2a2a2a;">100%</div>
<div class="t" style="left:403px;top:747.69px;font-size:11px;font-weight:normal;color:#b0b0b0;">0</div>
</body></html>
